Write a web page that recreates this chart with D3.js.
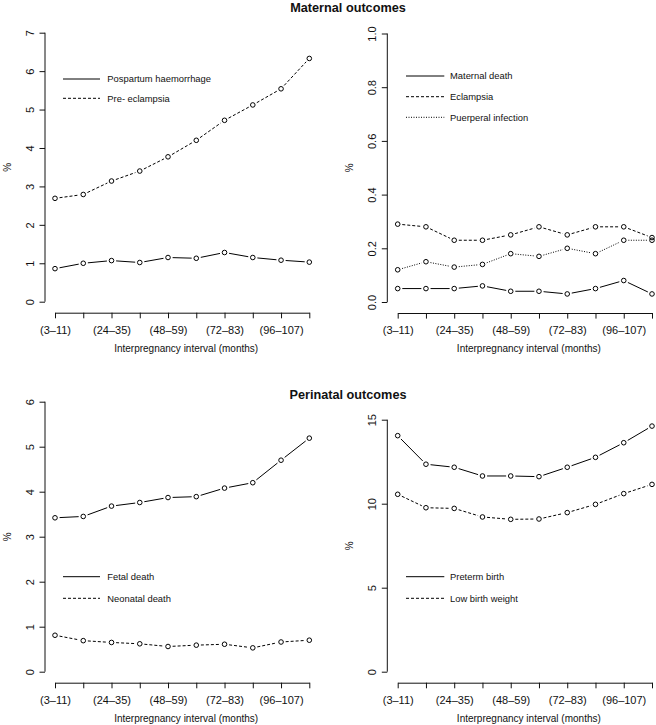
<!DOCTYPE html>
<html>
<head>
<meta charset="utf-8">
<script src="https://cdn.jsdelivr.net/npm/d3@7"></script>
<style>
  html, body { margin: 0; padding: 0; background: #fff; }
  svg { display: block; font-family: "Liberation Sans", Arial, sans-serif; }
</style>
</head>
<body>
<svg id="chart" width="656" height="725"></svg>
<script>
// ---------------- DATA ----------------
const categories = ["(3–11)", "(12–23)", "(24–35)", "(36–47)", "(48–59)",
                    "(60–71)", "(72–83)", "(84–95)", "(96–107)", "(108–119)"];

const postpartumHaemorrhage = [0.86, 1.00, 1.07, 1.02, 1.15, 1.13, 1.28, 1.15, 1.08, 1.03];
const preEclampsia          = [2.69, 2.79, 3.14, 3.40, 3.77, 4.20, 4.72, 5.12, 5.54, 6.33];

const maternalDeath         = [0.05, 0.05, 0.05, 0.06, 0.04, 0.04, 0.03, 0.05, 0.08, 0.03];
const eclampsia             = [0.29, 0.28, 0.23, 0.23, 0.25, 0.28, 0.25, 0.28, 0.28, 0.24];
const puerperalInfection    = [0.12, 0.15, 0.13, 0.14, 0.18, 0.17, 0.20, 0.18, 0.23, 0.23];

const fetalDeath            = [3.42, 3.45, 3.68, 3.76, 3.87, 3.89, 4.08, 4.20, 4.70, 5.19];
const neonatalDeath         = [0.81, 0.69, 0.65, 0.62, 0.56, 0.59, 0.61, 0.53, 0.66, 0.70];

const pretermBirth          = [14.05, 12.35, 12.17, 11.65, 11.65, 11.61, 12.17, 12.76, 13.63, 14.62];
const lowBirthWeight        = [10.56, 9.76, 9.72, 9.21, 9.07, 9.09, 9.47, 9.96, 10.60, 11.15];

const ticksP1 = [0, 1, 2, 3, 4, 5, 6, 7];
const ticksP2 = [0, 0.2, 0.4, 0.6, 0.8, 1.0];
const ticksP3 = [0, 1, 2, 3, 4, 5, 6];
const ticksP4 = [0, 5, 10, 15];

const titles = ["Maternal outcomes", "Perinatal outcomes"];
const xTitle = "Interpregnancy interval (months)";
const yTitle = "%";

// ---------------- LAYOUT ----------------
const svg = d3.select("#chart");
const ink = "#111";

const panels = [
  { axisX: 45, x0: 55, x1: 309.3, yBottom: 301.7, yTop: 32.7, yDom: [0, 7], ticks: ticksP1,
    fmt: d3.format("d"), xAxisY: 312.7,
    series: [{ name: "Pospartum haemorrhage", values: postpartumHaemorrhage, dash: null },
             { name: "Pre-eclampsia", label: "Pre- eclampsia", values: preEclampsia, dash: "3,2" }],
    legend: { x0: 63, x1: 100, tx: 107.3, ys: [79, 98.3] } },
  { axisX: 387.3, x0: 397.7, x1: 652, yBottom: 302, yTop: 33.5, yDom: [0, 1], ticks: ticksP2,
    fmt: d3.format(".1f"), xAxisY: 313,
    series: [{ name: "Maternal death", values: maternalDeath, dash: null },
             { name: "Eclampsia", values: eclampsia, dash: "3,2" },
             { name: "Puerperal infection", values: puerperalInfection, dash: "1,1.5" }],
    legend: { x0: 406, x1: 444.3, tx: 450, ys: [76, 96.7, 117.3] } },
  { axisX: 45, x0: 55, x1: 309.3, yBottom: 671.7, yTop: 401.7, yDom: [0, 6], ticks: ticksP3,
    fmt: d3.format("d"), xAxisY: 682.7,
    series: [{ name: "Fetal death", values: fetalDeath, dash: null },
             { name: "Neonatal death", values: neonatalDeath, dash: "3,2" }],
    legend: { x0: 63, x1: 100, tx: 107.3, ys: [576.7, 598.3] } },
  { axisX: 387.3, x0: 397.7, x1: 652, yBottom: 671.7, yTop: 419.7, yDom: [0, 15], ticks: ticksP4,
    fmt: d3.format("d"), xAxisY: 682.7,
    series: [{ name: "Preterm birth", values: pretermBirth, dash: null },
             { name: "Low birth weight", values: lowBirthWeight, dash: "3,2" }],
    legend: { x0: 406, x1: 444.3, tx: 450, ys: [576.7, 598.3] } }
];

// Titles
svg.append("text").attr("x", 348).attr("y", 11.5).attr("text-anchor", "middle")
  .attr("font-size", 12.7).attr("font-weight", "bold").attr("fill", ink).text(titles[0]);
svg.append("text").attr("x", 348).attr("y", 399).attr("text-anchor", "middle")
  .attr("font-size", 12.7).attr("font-weight", "bold").attr("fill", ink).text(titles[1]);

const GAP = 4.6, R = 2.3;

panels.forEach(p => {
  const g = svg.append("g");
  const x = d3.scalePoint().domain(categories).range([p.x0, p.x1]).padding(0);
  const y = d3.scaleLinear().domain(p.yDom).range([p.yBottom, p.yTop]);

  // Y axis
  const yAxis = d3.axisLeft(y).tickValues(p.ticks).tickFormat(p.fmt).tickSize(5.5).tickSizeOuter(0);
  const ya = g.append("g").attr("transform", `translate(${p.axisX},0)`).call(yAxis);
  ya.select(".domain").remove();
  ya.append("line").attr("x1", 0).attr("x2", 0)
    .attr("y1", y(p.ticks[0])).attr("y2", y(p.ticks[p.ticks.length - 1]))
    .attr("stroke", ink).attr("stroke-width", 1);
  ya.selectAll(".tick line").attr("stroke", ink);
  ya.selectAll(".tick text")
    .attr("transform", "rotate(-90)")
    .attr("x", 0).attr("y", -11).attr("dy", 0)
    .attr("text-anchor", "middle")
    .attr("font-size", 11).attr("fill", ink)
    .attr("font-family", "Liberation Sans, Arial, sans-serif");

  // X axis
  const xAxis = d3.axisBottom(x).tickSize(5.6).tickSizeOuter(0)
    .tickFormat((d, i) => i % 2 === 0 ? d : "");
  const xa = g.append("g").attr("transform", `translate(0,${p.xAxisY})`).call(xAxis);
  xa.select(".domain").attr("stroke", ink).attr("stroke-width", 1);
  xa.selectAll(".tick line").attr("stroke", ink);
  xa.selectAll(".tick text").attr("y", 21.3).attr("dy", 0)
    .attr("font-size", 11).attr("fill", ink)
    .attr("font-family", "Liberation Sans, Arial, sans-serif");

  // Axis titles
  const cx = (p.x0 + p.x1) / 2 + 4;
  g.append("text").attr("x", cx).attr("y", p.xAxisY + 38.8).attr("text-anchor", "middle")
    .attr("font-size", 10).attr("fill", ink).text(xTitle);
  const cy = (p.yBottom + p.yTop) / 2;
  g.append("text").attr("transform", `translate(${p.axisX - 37.5},${cy}) rotate(-90)`)
    .attr("text-anchor", "middle").attr("dy", "0.35em")
    .attr("font-size", 10).attr("fill", ink).text(yTitle);

  // Series (type "b": lines with gaps around points)
  p.series.forEach(s => {
    const pts = s.values.map((v, i) => [x(categories[i]), y(v)]);
    const segs = [];
    for (let i = 0; i < pts.length - 1; i++) {
      const [ax, ay] = pts[i], [bx, by] = pts[i + 1];
      const d = Math.hypot(bx - ax, by - ay);
      if (d > 2 * GAP) {
        const ux = (bx - ax) / d, uy = (by - ay) / d;
        segs.push([ax + ux * GAP, ay + uy * GAP, bx - ux * GAP, by - uy * GAP]);
      }
    }
    g.append("g").selectAll("line").data(segs).join("line")
      .attr("x1", d => d[0]).attr("y1", d => d[1]).attr("x2", d => d[2]).attr("y2", d => d[3])
      .attr("stroke", "#000").attr("stroke-width", 1)
      .attr("stroke-dasharray", s.dash);
    g.append("g").selectAll("circle").data(pts).join("circle")
      .attr("cx", d => d[0]).attr("cy", d => d[1]).attr("r", R)
      .attr("fill", "none").attr("stroke", "#000").attr("stroke-width", 1);
  });

  // Legend
  p.series.forEach((s, i) => {
    const ly = p.legend.ys[i];
    g.append("line").attr("x1", p.legend.x0).attr("x2", p.legend.x1)
      .attr("y1", ly).attr("y2", ly).attr("stroke", "#000").attr("stroke-width", 1)
      .attr("stroke-dasharray", s.dash);
    g.append("text").attr("x", p.legend.tx).attr("y", ly).attr("dy", "0.35em")
      .attr("font-size", 9.4).attr("fill", ink).text(s.label || s.name);
  });
});
</script>
</body>
</html>
